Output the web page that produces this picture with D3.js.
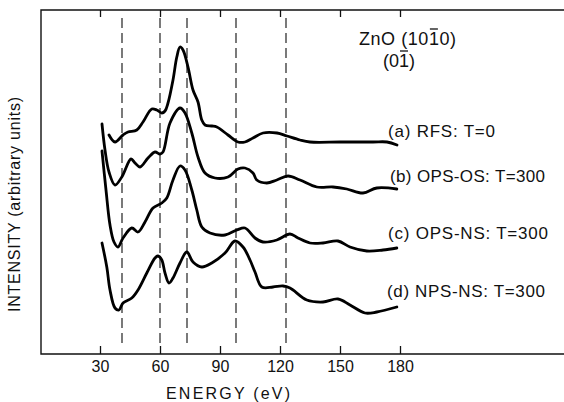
<!DOCTYPE html>
<html>
<head>
<meta charset="utf-8">
<script src="https://cdn.jsdelivr.net/npm/d3@7"></script>
<style>
  body { margin: 0; background: #fff; }
  svg { display: block; font-family: "Liberation Sans", Arial, sans-serif; }
</style>
</head>
<body>
<svg id="chart" width="564" height="402"></svg>
<script>
// energies (eV) and intensities (arbitrary units, offset curves)
const energyA = [34.5, 37.5, 41.5, 44, 48.4, 51.5, 55.9, 58.4, 60.9, 62.5, 64, 66.5, 68.4, 70, 71.5, 74, 76.5, 79, 80.9, 82.5, 85.9, 88.4, 94, 99, 102.5, 106.5, 111.5, 118.5, 123.5, 130, 135, 150, 166.5, 173.5, 178.5];
const intensityA = [219, 212, 219, 222, 224, 232, 245, 244, 241, 243, 251, 274, 297, 307, 304, 287, 264, 252, 234, 229, 228, 227, 219, 212, 212, 216, 221, 221, 218, 214, 212, 212, 212, 212, 209];

const energyB = [31, 32.5, 34.5, 37.5, 40.9, 45.5, 47.5, 50, 54, 57.5, 60, 61.5, 65, 70, 72.5, 75.9, 79, 82.5, 87.5, 94, 99, 102.5, 106.5, 108.4, 113.4, 118.4, 124, 130, 138.4, 146.5, 153.4, 161.5, 168.4, 178.4];
const intensityB = [230, 204, 182, 169, 177, 195, 191, 187, 196, 202, 200, 202, 231, 246, 241, 221, 197, 181, 176, 177, 185, 186, 181, 174, 171, 174, 178, 174, 167, 167, 165, 161, 166, 165];

const energyC = [31, 33, 35, 37, 39, 41.5, 45.9, 49, 52.5, 56.5, 60.9, 63.4, 66.5, 70, 72.5, 75.9, 78.4, 80.9, 85, 92.5, 98.4, 102.5, 107.5, 111.5, 118.4, 125, 129, 135, 141.5, 149, 155, 163.4, 171.5, 178.4];
const intensityC = [203, 164, 129, 112, 107, 116, 126, 122, 132, 146, 151, 156, 174, 188, 184, 164, 144, 127, 121, 119, 124, 126, 116, 112, 114, 120, 116, 111, 111, 113, 107, 103, 104, 106];

const energyD = [31, 33.4, 35, 37.5, 39.5, 41.5, 45.9, 49, 53.4, 57.5, 59, 60.9, 62.5, 64.5, 66.5, 70, 73.4, 76.5, 80.9, 85.9, 92.5, 97.5, 101.5, 105, 107.5, 110.9, 116.5, 121.5, 125, 133.4, 141.5, 149, 155, 162.5, 168.4, 178.4];
const intensityD = [111, 87, 64, 46, 44, 51, 56, 64, 81, 96, 98, 94, 81, 71, 76, 91, 102, 92, 87, 91, 101, 113, 107, 94, 82, 67, 67, 68, 66, 54, 52, 55, 49, 41, 42, 47];

const seriesLabels = ['(a) RFS: T=0', '(b) OPS-OS: T=300', '(c) OPS-NS: T=300', '(d) NPS-NS: T=300'];
const dashedEnergies = [41, 60, 73.5, 98, 123];
const tickValues = [30, 60, 90, 120, 150, 180];

const svg = d3.select('#chart');
const frameLeft = 41, frameTop = 10, frameBottom = 354;

const x = d3.scaleLinear().domain([30, 180]).range([100, 400]);
const y = d3.scaleLinear().domain([0, 344]).range([frameBottom, frameTop]);

// frame (right side runs off the picture)
svg.append('path')
  .attr('d', `M570,${frameTop}H${frameLeft}V${frameBottom}H570`)
  .attr('fill', 'none')
  .attr('stroke', '#111')
  .attr('stroke-width', 1.4);

// bottom axis, ticks pointing up
const xAxis = svg.append('g')
  .attr('transform', `translate(0,${frameBottom})`)
  .call(d3.axisBottom(x).tickValues(tickValues).tickSizeInner(-8).tickSizeOuter(0).tickPadding(7));
xAxis.select('.domain').remove();
xAxis.selectAll('line').attr('stroke', '#111').attr('stroke-width', 1.3);
xAxis.selectAll('text').attr('font-size', 16).attr('fill', '#111')
  .attr('font-family', '"Liberation Sans", Arial, sans-serif');

// top ticks pointing down
const topAxis = svg.append('g')
  .attr('transform', `translate(0,${frameTop})`)
  .call(d3.axisTop(x).tickValues(tickValues).tickSizeInner(-7).tickSizeOuter(0).tickFormat(''));
topAxis.select('.domain').remove();
topAxis.selectAll('line').attr('stroke', '#111').attr('stroke-width', 1.3);

// dashed reference lines
svg.selectAll('.ref')
  .data(dashedEnergies)
  .enter()
  .append('line')
  .attr('class', 'ref')
  .attr('x1', d => x(d)).attr('x2', d => x(d))
  .attr('y1', 18).attr('y2', 348)
  .attr('stroke', '#222')
  .attr('stroke-width', 1.2)
  .attr('stroke-dasharray', '10,5');

// curves
const line = d3.line()
  .x(d => x(d[0]))
  .y(d => y(d[1]))
  .curve(d3.curveCatmullRom.alpha(0.5));

const series = [
  [energyA, intensityA],
  [energyB, intensityB],
  [energyC, intensityC],
  [energyD, intensityD],
];
series.forEach(([es, is]) => {
  svg.append('path')
    .datum(es.map((e, i) => [e, is[i]]))
    .attr('d', line)
    .attr('fill', 'none')
    .attr('stroke', '#000')
    .attr('stroke-width', 2.8)
    .attr('stroke-linejoin', 'round')
    .attr('stroke-linecap', 'round');
});

// series labels
const labelPos = [[388, 137, 107], [390, 182, 155], [388, 239, 160], [387, 297, 158]];
svg.selectAll('.lbl')
  .data(seriesLabels)
  .enter()
  .append('text')
  .attr('class', 'lbl')
  .attr('x', (d, i) => labelPos[i][0])
  .attr('y', (d, i) => labelPos[i][1])
  .attr('textLength', (d, i) => labelPos[i][2])
  .attr('lengthAdjust', 'spacing')
  .attr('font-size', 17)
  .attr('fill', '#111')
  .text(d => d);

// title with overbars
function barredText(str, xPos, yPos, len, barIdx) {
  const t = svg.append('text')
    .attr('x', xPos).attr('y', yPos)
    .attr('textLength', len)
    .attr('lengthAdjust', 'spacing')
    .attr('font-size', 18)
    .attr('fill', '#111')
    .text(str);
  const n = t.node();
  const s = n.getStartPositionOfChar(barIdx);
  const e = n.getEndPositionOfChar(barIdx);
  svg.append('line')
    .attr('x1', s.x + 1).attr('x2', e.x - 1)
    .attr('y1', yPos - 16).attr('y2', yPos - 16)
    .attr('stroke', '#111').attr('stroke-width', 1.3);
}
barredText('ZnO (1010)', 359, 45, 97, 7);
barredText('(01)', 383, 67, 32, 2);

// axis titles
svg.append('text')
  .attr('x', 166).attr('y', 399)
  .attr('textLength', 124)
  .attr('lengthAdjust', 'spacing')
  .attr('font-size', 16)
  .attr('fill', '#111')
  .text('ENERGY (eV)');

svg.append('text')
  .attr('transform', 'translate(20,312) rotate(-90)')
  .attr('textLength', 215)
  .attr('lengthAdjust', 'spacing')
  .attr('font-size', 16)
  .attr('fill', '#111')
  .text('INTENSITY (arbitrary units)');
</script>
</body>
</html>
